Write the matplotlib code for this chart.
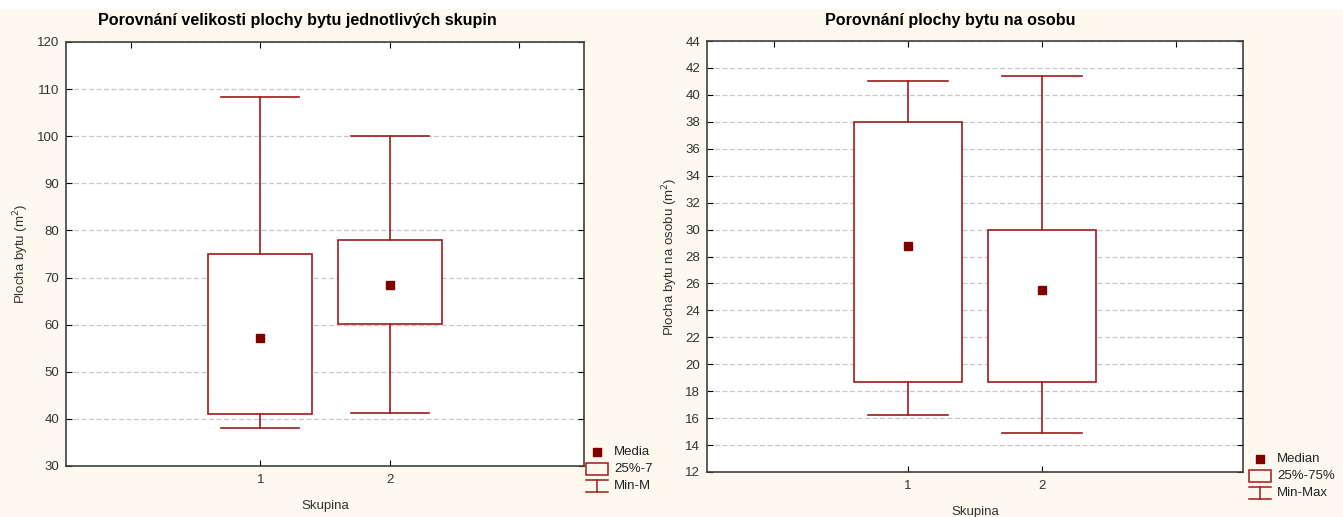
import matplotlib
matplotlib.use("Agg")
import matplotlib.pyplot as plt
from matplotlib.lines import Line2D
from matplotlib.patches import Rectangle

plt.rcParams['font.family'] = ['Liberation Sans', 'DejaVu Sans']

# ---- data ----
groups = [1, 2]
area_min = [38.1, 41.3]
area_q1 = [41.1, 60.1]
area_mid = [57.1, 68.4]
area_q3 = [75.0, 78.0]
area_max = [108.3, 100.0]

pp_min = [16.2, 14.9]
pp_q1 = [18.7, 18.7]
pp_mid = [28.8, 25.5]
pp_q3 = [38.0, 30.0]
pp_max = [41.0, 41.4]

left_title = "Porovnání velikosti plochy bytu jednotlivých skupin"
right_title = "Porovnání plochy bytu na osobu"
left_ylabel = "Plocha bytu (m$^2$)"
right_ylabel = "Plocha bytu na osobu (m$^2$)"
xlabel = "Skupina"
left_legend = ["Media", "25%-7", "Min-M"]
right_legend = ["Median", "25%-75%", "Min-Max"]
left_yticks = list(range(30, 121, 10))
right_yticks = list(range(12, 45, 2))

BG = '#FEF9EE'
LINE = '#A01A1A'
MARK = '#800000'
W, H = 1343, 517

fig = plt.figure(figsize=(W / 100, H / 100), dpi=100, facecolor=BG)
fig.patches.append(Rectangle((0, 1 - 9 / H), 1, 9 / H, transform=fig.transFigure,
                             facecolor='white', edgecolor='none', zorder=0))


def make_panel(rect, mins, q1s, mids, q3s, maxs, yticks, ylabel):
    ax = fig.add_axes(rect)
    ax.set_facecolor('white')
    stats = []
    for lo, a, m, b, hi in zip(mins, q1s, mids, q3s, maxs):
        stats.append(dict(whislo=lo, q1=a, med=m, q3=b, whishi=hi, mean=m, fliers=[]))
    ax.bxp(stats, positions=groups, widths=0.8, capwidths=0.6, patch_artist=True,
           showmeans=True, showfliers=False,
           boxprops=dict(facecolor='white', edgecolor=LINE, linewidth=1.2),
           whiskerprops=dict(color=LINE, linewidth=1.2),
           capprops=dict(color=LINE, linewidth=1.2),
           medianprops=dict(linewidth=0),
           meanprops=dict(marker='s', markersize=6, markerfacecolor=MARK,
                          markeredgecolor=MARK))
    ax.set_xlim(-0.5, 3.5)
    ax.set_ylim(yticks[0], yticks[-1])
    ax.set_yticks(yticks)
    ax.set_xticks(groups)
    ax.set_xticklabels([str(g) for g in groups])
    ax.yaxis.grid(True, linestyle=(0, (4, 2)), color='#C8C8C8', linewidth=0.9)
    ax.set_axisbelow(True)
    ax.tick_params(axis='y', direction='in', left=True, right=True, length=4,
                   labelsize=9.5, labelcolor='#333333', pad=5)
    ax.tick_params(axis='x', direction='in', length=4, labelsize=9.5,
                   labelcolor='#333333', pad=6)
    top = ax.secondary_xaxis('top')
    top.set_xticks([0, 1, 2, 3])
    top.tick_params(direction='in', length=4, labeltop=False)
    for s in ax.spines.values():
        s.set_color('#404040')
        s.set_linewidth(1.2)
    top.spines['top'].set_visible(False)
    ax.set_ylabel(ylabel, fontsize=9.5, color='#333333', labelpad=4)
    ax.set_xlabel(xlabel, fontsize=9.5, color='#333333', labelpad=10)
    return ax


axL = make_panel([66 / W, 1 - 466 / H, (584 - 66) / W, (466 - 42) / H],
                 area_min, area_q1, area_mid, area_q3, area_max, left_yticks, left_ylabel)
axR = make_panel([707 / W, 1 - 472 / H, (1243 - 707) / W, (472 - 41) / H],
                 pp_min, pp_q1, pp_mid, pp_q3, pp_max, right_yticks, right_ylabel)

fig.text(297 / W, 1 - 21 / H, left_title, ha='center', va='center', fontsize=11.6,
         fontweight='bold')
fig.text(950 / W, 1 - 21 / H, right_title, ha='center', va='center', fontsize=11.6,
         fontweight='bold')


def legend(x, y, labels):
    # x: icon center px, y: first row px
    rows = [y, y + 17, y + 34]
    fig.add_artist(Line2D([x / W], [1 - rows[0] / H], marker='s', markersize=6,
                          color=MARK, linestyle='none', transform=fig.transFigure))
    fig.add_artist(Rectangle(((x - 11) / W, 1 - (rows[1] + 6) / H), 22 / W, 12 / H,
                             transform=fig.transFigure, facecolor='none',
                             edgecolor=LINE, linewidth=1.1))
    ytop = 1 - (rows[2] - 6) / H
    ybot = 1 - (rows[2] + 6) / H
    fig.add_artist(Line2D([(x - 11) / W, (x + 11) / W], [ytop, ytop], color=LINE,
                          linewidth=1.1, transform=fig.transFigure))
    fig.add_artist(Line2D([x / W, x / W], [ytop, ybot],
                          color=LINE, linewidth=1.1, transform=fig.transFigure))
    fig.add_artist(Line2D([(x - 11) / W, (x + 11) / W], [ybot, ybot],
                          color=LINE, linewidth=1.1, transform=fig.transFigure))
    for r, lab in zip(rows, labels):
        fig.text((x + 17) / W, 1 - r / H, lab, ha='left', va='center', fontsize=9.5,
                 color='#222222')


legend(597, 452, left_legend)
legend(1260, 459, right_legend)

fig.savefig('out.png', dpi=100, facecolor=BG)
